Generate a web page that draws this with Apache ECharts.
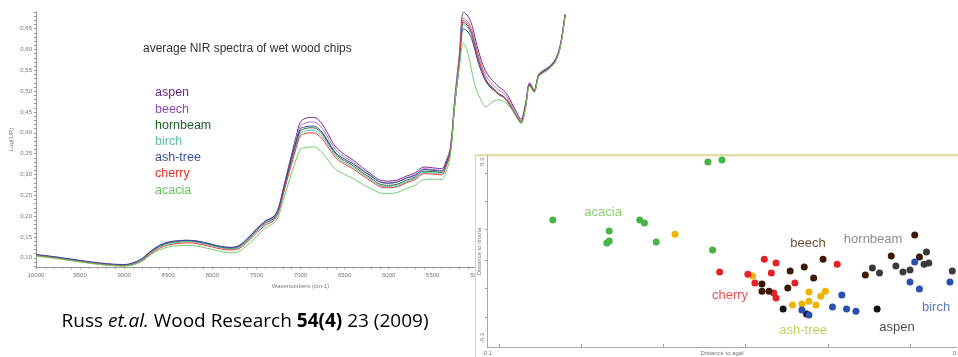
<!DOCTYPE html>
<html>
<head>
<meta charset="utf-8">
<script src="https://cdn.jsdelivr.net/npm/echarts@6/dist/echarts.min.js"></script>
<style>
  html, body { margin: 0; padding: 0; background: #fff; }
  #chart { width: 958px; height: 357px; }
</style>
</head>
<body>
<div id="chart"></div>
<script>
// ---- NIR spectra (left) ----
const wavenumbers = [10000, 9800, 9600, 9400, 9200, 9000, 8900, 8800, 8700, 8600,
  8500, 8400, 8300, 8200, 8100, 8000, 7900, 7800, 7700, 7600,
  7500, 7400, 7300, 7250, 7200, 7150, 7100, 7050, 7000, 6950,
  6900, 6850, 6800, 6750, 6700, 6600, 6500, 6400, 6300, 6200,
  6100, 6000, 5900, 5800, 5700, 5600, 5500, 5400, 5350, 5300,
  5250, 5200, 5150, 5100, 5050, 5000, 4950, 4900, 4850, 4800,
  4750, 4700, 4650, 4600, 4550, 4500, 4450, 4400, 4350, 4300,
  4250, 4200, 4150, 4100, 4050, 4000];

const aspen = [.107,.102,.096,.090,.085,.083,.087,.097,.115,.129,
  .137,.140,.142,.141,.137,.132,.127,.125,.129,.146,
  .168,.188,.200,.220,.262,.306,.349,.391,.427,.434,
  .437,.437,.432,.420,.402,.366,.348,.334,.317,.301,
  .287,.284,.287,.296,.304,.318,.316,.314,.332,.365,
  .485,.585,.690,.680,.655,.610,.575,.548,.532,.521,
  .510,.503,.490,.470,.450,.433,.468,.520,.503,.540,
  .549,.556,.565,.580,.615,.685];
const beech = [.107,.102,.096,.090,.085,.083,.087,.097,.114,.128,
  .136,.139,.141,.140,.136,.131,.126,.124,.128,.145,
  .166,.186,.198,.217,.258,.301,.342,.383,.417,.423,
  .426,.426,.421,.410,.393,.359,.342,.329,.312,.297,
  .283,.280,.283,.292,.300,.314,.312,.310,.328,.361,
  .478,.575,.675,.666,.642,.599,.565,.538,.523,.512,
  .502,.496,.484,.465,.446,.430,.465,.518,.501,.538,
  .547,.554,.563,.578,.612,.683];
const hornbeam = [.106,.101,.095,.089,.084,.082,.086,.096,.113,.127,
  .135,.138,.140,.139,.135,.130,.125,.122,.126,.143,
  .164,.183,.195,.214,.254,.295,.334,.373,.405,.410,
  .412,.412,.407,.397,.381,.349,.333,.321,.305,.291,
  .277,.274,.277,.286,.294,.308,.307,.305,.323,.356,
  .471,.566,.665,.656,.631,.589,.555,.529,.514,.505,
  .494,.488,.477,.459,.441,.427,.462,.516,.499,.536,
  .545,.552,.561,.576,.610,.681];
const birch = [.106,.101,.095,.089,.084,.082,.086,.095,.112,.126,
  .134,.137,.139,.138,.134,.129,.124,.121,.125,.142,
  .163,.182,.193,.212,.251,.292,.330,.368,.399,.404,
  .406,.406,.401,.391,.376,.345,.329,.317,.302,.288,
  .274,.271,.274,.283,.291,.305,.304,.302,.320,.353,
  .467,.561,.660,.651,.626,.584,.550,.525,.510,.501,
  .491,.485,.474,.456,.439,.425,.460,.514,.498,.535,
  .544,.551,.560,.575,.609,.680];
const ashTree = [.108,.103,.097,.091,.086,.084,.088,.098,.116,.130,
  .138,.141,.142,.141,.137,.132,.127,.125,.129,.147,
  .169,.188,.199,.219,.259,.301,.341,.379,.410,.414,
  .416,.416,.411,.400,.384,.352,.337,.325,.310,.296,
  .282,.279,.282,.291,.298,.312,.310,.308,.326,.358,
  .470,.563,.650,.642,.620,.580,.548,.524,.510,.501,
  .492,.487,.475,.457,.440,.426,.461,.517,.501,.538,
  .547,.554,.563,.578,.612,.683];
const cherry = [.105,.100,.094,.088,.083,.081,.084,.093,.110,.123,
  .131,.134,.136,.135,.131,.126,.121,.119,.122,.139,
  .159,.178,.190,.209,.248,.288,.326,.363,.393,.398,
  .400,.400,.395,.385,.370,.340,.325,.313,.298,.284,
  .271,.268,.271,.280,.288,.302,.301,.299,.318,.355,
  .470,.565,.670,.660,.634,.590,.556,.528,.512,.502,
  .492,.487,.475,.457,.440,.426,.460,.515,.499,.536,
  .545,.552,.561,.576,.610,.681];
const acacia = [.104,.099,.093,.087,.082,.080,.083,.091,.107,.119,
  .126,.129,.130,.129,.125,.120,.115,.112,.115,.131,
  .151,.171,.184,.200,.234,.270,.304,.336,.361,.364,
  .366,.366,.361,.352,.338,.312,.300,.290,.277,.266,
  .256,.254,.257,.266,.274,.288,.289,.288,.306,.345,
  .470,.555,.615,.590,.540,.500,.478,.462,.470,.477,
  .479,.476,.468,.455,.437,.421,.455,.512,.497,.534,
  .543,.550,.559,.574,.608,.679];

const speciesNames = ['aspen', 'beech', 'hornbeam', 'birch', 'ash-tree', 'cherry', 'acacia'];
const spectra = [aspen, beech, hornbeam, birch, ashTree, cherry, acacia];
const lineColors = ['#7a2e8e', '#b36fc4', '#2e6b3a', '#5cc0a8', '#34479a', '#e2403a', '#6ccf6c'];
const legendColors = ['#6a2a86', '#8e4ab2', '#1f5e2a', '#5cc0a8', '#3a4fa0', '#e0342a', '#62c462'];

const yTickLabels = [0.10, 0.15, 0.20, 0.25, 0.30, 0.35, 0.40, 0.45, 0.50, 0.55, 0.60, 0.65];
const xTickLabels = [10000, 9500, 9000, 8500, 8000, 7500, 7000, 6500, 6000, 5500, 5000, 4500, 4000];

// ---- distance plot (right) ----
const acaciaPts = [[-0.072,0.102],[-0.048,0.065],[-0.049,0.024],[-0.048,0.031],[-0.035,0.102],
  [-0.033,0.092],[-0.028,0.027],[-0.006,0.300],[0.000,0.306],[-0.004,0.000]];
const ashPts = [[-0.020,0.054],[0.013,-0.088],[0.037,-0.143],[0.044,-0.140],[0.042,-0.157],
  [0.037,-0.174],[0.040,-0.187],[0.034,-0.184],[0.030,-0.187]];
const cherryPts = [[-0.001,-0.075],[0.011,-0.082],[0.018,-0.031],[0.023,-0.044],[0.021,-0.078],
  [0.014,-0.112],[0.031,-0.112],[0.022,-0.146],[0.023,-0.163],[0.049,-0.048]];
const beechPts = [[0.017,-0.116],[0.017,-0.140],[0.020,-0.140],[0.029,-0.071],[0.028,-0.129],
  [0.035,-0.058],[0.039,-0.095],[0.043,-0.031],[0.061,-0.085],[0.072,-0.020],[0.084,-0.024],[0.082,0.051]];
const hornbeamPts = [[0.064,-0.061],[0.067,-0.078],[0.074,-0.054],[0.077,-0.075],[0.080,-0.068],
  [0.086,-0.048],[0.088,-0.044],[0.087,-0.007],[0.098,-0.071]];
const aspenPts = [[0.026,-0.201],[0.036,-0.218],[0.066,-0.201]];
const birchPts = [[0.034,-0.204],[0.037,-0.221],[0.047,-0.194],[0.051,-0.153],[0.053,-0.201],
  [0.057,-0.208],[0.082,-0.041],[0.080,-0.109],[0.084,-0.133],[0.097,-0.109]];

const pointGroups = [acaciaPts, ashPts, cherryPts, beechPts, hornbeamPts, aspenPts, birchPts];
const pointColors = ['#45b545', '#f0b400', '#e5222a', '#3d1a08', '#3a3a3a', '#111111', '#2a4fb0'];

const groupLabels = ['acacia', 'beech', 'hornbeam', 'cherry', 'ash-tree', 'aspen', 'birch'];
const groupLabelPos = [[-0.0506,0.129],[0.0366,0.024],[0.0643,0.0375],[0.0034,-0.153],
  [0.0345,-0.272],[0.0745,-0.262],[0.0911,-0.194]];
const groupLabelColors = ['#6cc24a', '#4a2408', '#707070', '#e8262a', '#a8cc30', '#1a1a1a', '#2f55b0'];

const refX = 0.033, refY = 0.030;
const distXTicks = [-0.095, -0.06, -0.025, 0.01, 0.045, 0.08];
const distYTicks = [0.26, 0.165, 0.07, -0.035, -0.13, -0.23];

const leftXTicks = [];
for (let w = 10000; w >= 4000; w -= 100) leftXTicks.push(w);
const leftYTicks = [];
for (let v = 8; v <= 69; v++) leftYTicks.push(v / 100);

const chart = echarts.init(document.getElementById('chart'));
const font = 'Liberation Sans';

const lineSeries = spectra.map((vals, i) => ({
  name: speciesNames[i],
  type: 'line',
  xAxisIndex: 0,
  yAxisIndex: 0,
  data: wavenumbers.map((w, j) => [w, vals[j]]),
  showSymbol: false,
  smooth: 0.35,
  lineStyle: { width: 1, color: lineColors[i] },
  itemStyle: { color: lineColors[i] },
  z: 2
}));

const scatterSeries = pointGroups.map((pts, i) => ({
  name: 'pts-' + i,
  type: 'scatter',
  xAxisIndex: 1,
  yAxisIndex: 1,
  data: pts,
  symbolSize: 7,
  itemStyle: { color: pointColors[i], opacity: 1 },
  z: 20
}));
// grey reference cross through the plot
scatterSeries[0].markLine = {
  silent: true, symbol: 'none', animation: false,
  lineStyle: { color: '#d6d6d6', width: 1, type: 'solid' },
  label: { show: false },
  data: [{ xAxis: refX }, { yAxis: refY }]
};

const smallName = { fontSize: 6, color: '#777' };

const option = {
  animation: false,
  backgroundColor: '#fff',
  textStyle: { fontFamily: font },
  title: {
    text: 'average NIR spectra of wet wood chips',
    left: 138, top: 38,
    textStyle: { fontSize: 12, fontWeight: 'normal', color: '#333', fontFamily: font }
  },
  legend: {
    data: speciesNames.map((n, i) => ({ name: n, textStyle: { color: legendColors[i] } })),
    orient: 'vertical',
    left: 145, top: 81,
    icon: 'none',
    itemWidth: 0, itemHeight: 14, itemGap: 2.7,
    textStyle: { fontSize: 12.5, fontFamily: font }
  },
  grid: [
    { left: 36, top: 12, right: 393, bottom: 90, outerBoundsMode: 'none' },
    { left: 487, top: 156, right: 1, bottom: 10, outerBoundsMode: 'none' }
  ],
  xAxis: [{
    type: 'value', gridIndex: 0, min: 4000, max: 10000, inverse: true,
    name: 'Wavenumbers (cm-1)', nameLocation: 'middle', nameGap: 16, nameMoveOverlap: false,
    nameTextStyle: smallName,
    axisLine: { onZero: false, lineStyle: { color: '#999' } },
    axisTick: { customValues: leftXTicks, length: 2, lineStyle: { color: '#999' } },
    axisLabel: { customValues: xTickLabels, fontSize: 6, color: '#777', margin: 5, formatter: v => String(v) },
    splitLine: { show: false }
  }, {
    type: 'value', gridIndex: 1, min: -0.1, max: 0.1, z: 15,
    name: 'Distance to agal', nameLocation: 'middle', nameGap: 3, nameMoveOverlap: false,
    nameTextStyle: smallName,
    axisLine: { onZero: false, lineStyle: { color: '#aaa' } },
    axisTick: { customValues: distXTicks, inside: true, length: 3, lineStyle: { color: '#999' } },
    axisLabel: { customValues: [-0.1, 0.1], fontSize: 6, color: '#777', margin: 3 },
    splitLine: { show: false }
  }],
  yAxis: [{
    type: 'value', gridIndex: 0, min: 0.078, max: 0.69,
    name: 'Log(1/R)', nameLocation: 'middle', nameGap: 22, nameMoveOverlap: false,
    nameTextStyle: smallName,
    axisLine: { show: true, onZero: false, lineStyle: { color: '#999' } },
    axisTick: { show: true, customValues: leftYTicks, length: 2, lineStyle: { color: '#999' } },
    axisLabel: {
      customValues: yTickLabels, fontSize: 6, color: '#777', margin: 4,
      formatter: v => v.toFixed(2).replace('.', ',')
    },
    splitLine: { show: false }
  }, {
    type: 'value', gridIndex: 1, min: -0.33, max: 0.32, z: 15,
    name: 'Distance to linaria', nameLocation: 'middle', nameGap: 5, nameMoveOverlap: false,
    nameTextStyle: smallName,
    axisLine: { show: true, onZero: false, lineStyle: { color: '#aaa' } },
    axisTick: { show: true, customValues: distYTicks, length: 2, lineStyle: { color: '#999' } },
    axisLabel: { customValues: [0.3, -0.3], fontSize: 6, color: '#777', rotate: 90, margin: 2 },
    splitLine: { show: false }
  }],
  graphic: [
    {
      type: 'rect', z: 10,
      shape: { x: 475.5, y: 154.5, width: 483, height: 203 },
      style: { fill: '#fff', stroke: '#d4d4c8', lineWidth: 1 }
    },
    {
      type: 'line', z: 11,
      shape: { x1: 476, y1: 155.5, x2: 958, y2: 155.5 },
      style: { stroke: '#e6dfa0', lineWidth: 2 }
    },
    {
      type: 'text', z: 11,
      style: {
        x: 245, y: 322, align: 'center', verticalAlign: 'middle',
        text: '{n|Russ }{i|et.al.}{n| Wood Research }{b|54(4)}{n| 23 (2009)}',
        rich: {
          n: { fontSize: 19, fontFamily: 'Open Sans', color: '#404040' },
          i: { fontSize: 19, fontFamily: 'Open Sans', fontStyle: 'italic', color: '#404040' },
          b: { fontSize: 19, fontFamily: 'Open Sans', fontWeight: 'bold', color: '#404040' }
        }
      }
    }
  ],
  series: lineSeries.concat(scatterSeries, [
    {
      name: 'group-labels', type: 'scatter', xAxisIndex: 1, yAxisIndex: 1, symbolSize: 0, z: 18,
      data: groupLabels.map((n, i) => ({
        name: n, value: groupLabelPos[i],
        label: { color: groupLabelColors[i] }
      })),
      label: {
        show: true, position: 'inside', formatter: '{b}',
        fontSize: 13, fontFamily: font, backgroundColor: '#fff', padding: [0, 2]
      }
    }
  ])
};

chart.setOption(option);
</script>
</body>
</html>
